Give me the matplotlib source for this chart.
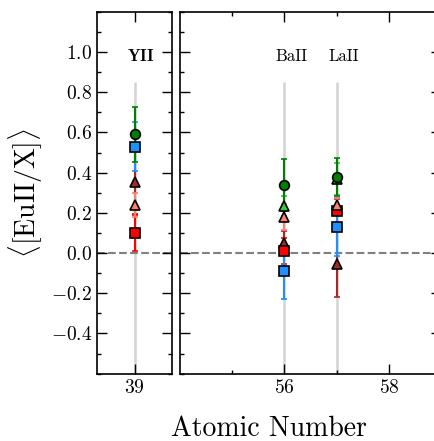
import numpy as np
import matplotlib
matplotlib.use("Agg")
import matplotlib.pyplot as plt
from matplotlib.ticker import MultipleLocator, FixedLocator

plt.rcParams['mathtext.fontset'] = 'cm'
plt.rcParams['font.family'] = 'serif'
plt.rcParams['font.serif'] = ['cmr10']
plt.rcParams['axes.formatter.use_mathtext'] = True

# ---- data ----
elements = ['YII', 'BaII', 'LaII']
atomic_numbers = [39, 56, 57]

green_vals = [0.59, 0.34, 0.38]
green_err = [0.135, 0.13, 0.095]
blue_vals = [0.53, -0.09, 0.13]
blue_err = [0.12, 0.14, 0.145]
brown_vals = [0.355, 0.05, -0.055]
brown_err = [0.16, 0.06, 0.165]
salmon_vals = [0.24, 0.18, 0.24]
salmon_err = [0.06, 0.065, 0.035]
red_vals = [0.10, 0.01, 0.21]
red_err = [0.09, 0.065, 0.06]
lime_vals = [np.nan, 0.235, 0.37]
lime_err = [np.nan, 0.05, 0.08]

yticks = [-0.4, -0.2, 0.0, 0.2, 0.4, 0.6, 0.8, 1.0]

series = [
    (brown_vals, brown_err, 'brown', '^'),
    (red_vals, red_err, 'red', 's'),
    (blue_vals, blue_err, 'dodgerblue', 's'),
    (salmon_vals, salmon_err, 'salmon', '^'),
    (lime_vals, lime_err, 'limegreen', '^'),
    (green_vals, green_err, 'green', 'o'),
]

ylim = (-0.6, 1.2)
guide_top = 0.85
label_y = 0.98

fig = plt.figure(figsize=(4.35, 4.41), dpi=100)
H = 441.0
W = 435.0
bottom = 1 - 373.7 / H
height = (373.7 - 11.8) / H
ax1 = fig.add_axes([97 / W, bottom, 75 / W, height])
ax2 = fig.add_axes([180 / W, bottom, 261 / W, height])

x = np.array(atomic_numbers, dtype=float)

for ax in (ax1, ax2):
    ax.set_ylim(*ylim)
    ax.vlines(x, ylim[0], guide_top, color='lightgray', lw=1.8, zorder=0)
    ax.axhline(0, color='gray', ls='--', lw=1.5, zorder=1)
    for vals, errs, col, mk in series:
        ax.errorbar(x, vals, yerr=errs, fmt=mk, color=col, mfc=col, mec='black',
                    mew=1.2, ms=7, elinewidth=1.5, capsize=2.2, capthick=1.5, zorder=3)
    ax.yaxis.set_major_locator(FixedLocator(yticks))
    ax.yaxis.set_minor_locator(MultipleLocator(0.1))
    ax.tick_params(which='both', direction='in', top=True, right=True, width=1.0)
    ax.tick_params(which='major', length=7)
    ax.tick_params(which='minor', length=3)
    for s in ax.spines.values():
        s.set_linewidth(1.2)

ax1.set_xlim(38.5, 39.5)
ax1.xaxis.set_major_locator(FixedLocator([39]))
ax1.xaxis.set_minor_locator(FixedLocator([]))
ax1.tick_params(labelsize=14)

ax2.set_xlim(54, 59)
ax2.xaxis.set_major_locator(FixedLocator([56, 58]))
ax2.xaxis.set_minor_locator(FixedLocator([55, 57]))
ax2.tick_params(labelsize=14, labelleft=False)

ax1.annotate(r'$\mathbf{YII}$', xy=(x[0], label_y), xytext=(4.5, 0),
             textcoords='offset points', ha='center', va='center', fontsize=12)
for xi, name in zip(x[1:], elements[1:]):
    ax2.annotate(name, xy=(xi, label_y), xytext=(5, 0), textcoords='offset points',
                 ha='center', va='center', fontsize=12)

ax1.set_ylabel(r'$\langle[\mathrm{EuII/X}]\rangle$', fontsize=20, labelpad=4)
fig.text(269 / W, 1 - 436 / H, 'Atomic Number', ha='center', va='baseline', fontsize=20)

fig.savefig('out.png', dpi=100)
